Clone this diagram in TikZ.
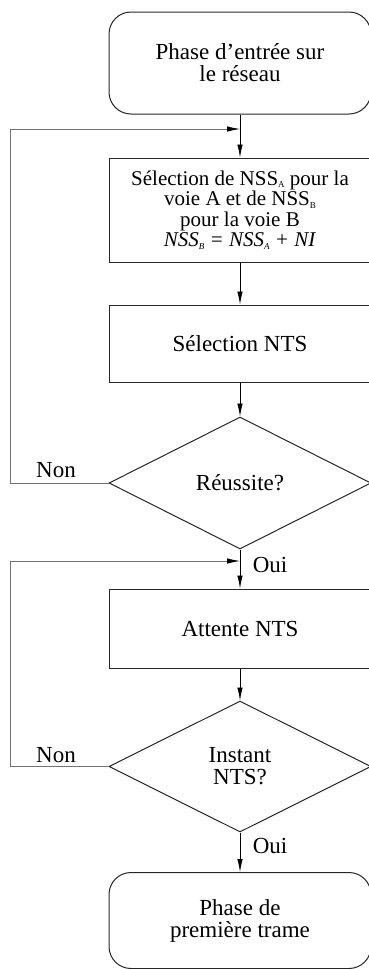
\documentclass[tikz,border=0pt]{standalone}
\usepackage{fontspec}
\setmainfont{Liberation Serif}
\usetikzlibrary{shapes.geometric,arrows.meta}

% petit indice, peu abaisse
\newcommand{\ind}[1]{\raisebox{-0.25ex}{\fontsize{9}{9}\selectfont #1}}

\tikzset{
  bloc/.style={draw=black!85, line width=1pt, minimum width=262pt, inner sep=0pt,
    align=center, font=\fontsize{23}{22}\selectfont},
  phase/.style={bloc, rounded corners=22pt},
  test/.style={bloc, shape=diamond, aspect=2, minimum height=132pt},
  fleche/.style={-{Latex[length=13pt,width=5.5pt,color=black]}, line width=0.8pt},
  retour/.style={fleche, draw=black!55},
  lbl/.style={inner sep=0pt, anchor=base, font=\fontsize{23}{22}\selectfont}
}

\begin{document}
\begin{tikzpicture}[x=1pt,y=-1pt]
\useasboundingbox (0,0) rectangle (368,969);

% blocs
\node[phase, minimum height=102pt] (entree) at (240,63) {Phase d\symbol{39}entrée sur\\le réseau};
\node[bloc, minimum height=104pt, font=\fontsize{21}{20.5}\selectfont] (selnss) at (240,210)
  {Sélection de NSS\ind{A} pour la\\voie A et de NSS\ind{B}\\pour la voie B\\
   \textit{NSS\ind{B} = NSS\ind{A} + NI}};
\node[bloc, minimum height=77pt] (selnts) at (240,343.5) {Sélection NTS};
\node[test] (reussite) at (240,483) {Réussite?};
\node[bloc, minimum height=79pt] (attente) at (240,628.5) {Attente NTS};
\node[test, minimum height=131pt] (instant) at (240,766.5) {Instant\\NTS?};
\node[phase, minimum height=96pt] (trame) at (240,920.5) {Phase de\\première trame};

% points de jonction
\coordinate (j1) at (240,129);
\coordinate (g1) at (10,129);
\coordinate (j2) at (240,561);
\coordinate (g2) at (10,561);

% liaisons
\draw[fleche] (entree.south) -- (selnss.north);
\draw[fleche] (selnss.south) -- (selnts.north);
\draw[fleche] (selnts.south) -- (reussite.north);
\draw[fleche] (reussite.south) -- (attente.north);
\draw[fleche] (attente.south) -- (instant.north);
\draw[fleche] (instant.south) -- (trame.north);

% retours
\draw[retour] (reussite.west) -| (g1) -- (j1);
\draw[retour] (instant.west) -| (g2) -- (j2);

% etiquettes
\node[lbl] (non1) at (56,477) {Non};
\node[lbl] (non2) at (56,762) {Non};
\node[lbl] (oui1) at (270,572) {Oui};
\node[lbl] (oui2) at (270,853) {Oui};
\end{tikzpicture}
\end{document}
